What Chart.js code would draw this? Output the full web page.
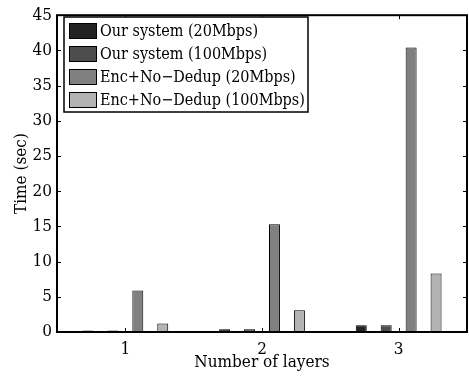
<!DOCTYPE html>
<html>
<head>
<meta charset="utf-8">
<script src="https://cdn.jsdelivr.net/npm/chart.js@4/dist/chart.umd.min.js"></script>
<style>
  html, body { margin: 0; padding: 0; background: #fff; }
  #wrap { width: 469px; height: 376px; }
</style>
</head>
<body>
<div id="wrap"><canvas id="chart" width="469" height="376"></canvas></div>
<script>
// Datos
const layers = ['1', '2', '3'];
const ours20 = [0.2, 0.4, 0.95];
const ours100 = [0.2, 0.4, 0.95];
const encNoDedup20 = [5.9, 15.3, 40.4];
const encNoDedup100 = [1.2, 3.1, 8.3];
const yTicks = [0, 5, 10, 15, 20, 25, 30, 35, 40, 45];

const seriesLabels = ['Our system (20Mbps)', 'Our system (100Mbps)', 'Enc+No\u2212Dedup (20Mbps)', 'Enc+No\u2212Dedup (100Mbps)'];
const seriesColors = ['#222222', '#4d4d4d', '#808080', '#b3b3b3'];

const FONT = '"DejaVu Serif Condensed", "DejaVu Serif", serif';

// Marco, ticks hacia dentro y leyenda estilo MATLAB
const matlabFrame = {
    id: 'matlabFrame',
    afterDraw(chart) {
        const { ctx, chartArea: a, scales } = chart;
        ctx.save();
        ctx.strokeStyle = '#000';
        ctx.lineWidth = 1;
        // ticks interiores
        ctx.beginPath();
        yTicks.forEach(v => {
            const y = Math.round(scales.y.getPixelForValue(v)) + 0.5;
            ctx.moveTo(a.left, y); ctx.lineTo(a.left + 4, y);
            ctx.moveTo(a.right, y); ctx.lineTo(a.right - 4, y);
        });
        layers.forEach((l, i) => {
            const x = Math.round(scales.x.getPixelForValue(i)) + 0.5;
            ctx.moveTo(x, a.bottom); ctx.lineTo(x, a.bottom - 4);
            ctx.moveTo(x, a.top); ctx.lineTo(x, a.top + 4);
        });
        ctx.stroke();
        // marco
        ctx.lineWidth = 2;
        ctx.strokeRect(a.left, a.top, a.right - a.left, a.bottom - a.top);

        // leyenda
        const lx = 64, ly = 17, lw = 244, lh = 95;
        ctx.fillStyle = '#fff';
        ctx.fillRect(lx, ly, lw, lh);
        ctx.lineWidth = 1.5;
        ctx.strokeRect(lx, ly, lw, lh);
        ctx.font = '16px ' + FONT;
        ctx.textBaseline = 'middle';
        chart.data.datasets.forEach((ds, i) => {
            const cy = 31 + i * 23;
            ctx.fillStyle = ds.backgroundColor;
            ctx.fillRect(69, cy - 8, 28, 16);
            ctx.lineWidth = 1;
            ctx.strokeStyle = '#000';
            ctx.strokeRect(69.5, cy - 7.5, 27, 15);
            ctx.fillStyle = '#000';
            ctx.fillText(ds.label, 100, cy + 1);
        });
        ctx.restore();
    }
};

const ctx = document.getElementById('chart').getContext('2d');

new Chart(ctx, {
    type: 'bar',
    data: {
        labels: layers,
        datasets: [ours20, ours100, encNoDedup20, encNoDedup100].map((d, i) => ({
            label: seriesLabels[i],
            data: d,
            backgroundColor: seriesColors[i],
            borderColor: '#000',
            borderWidth: 1,
            categoryPercentage: 0.73,
            barPercentage: 0.44
        }))
    },
    options: {
        responsive: false,
        animation: false,
        layout: { padding: { top: 10, right: 2, left: 0, bottom: 0 } },
        plugins: {
            legend: { display: false },
            tooltip: { enabled: false }
        },
        scales: {
            x: {
                grid: { display: false, drawTicks: false },
                border: { display: false },
                ticks: { color: '#000', font: { family: FONT, size: 17 }, padding: 7 },
                title: {
                    display: true,
                    text: 'Number of layers',
                    color: '#000',
                    font: { family: FONT, size: 17 },
                    padding: { top: 0, bottom: 3 }
                },
                afterFit: s => { s.height = 44; }
            },
            y: {
                min: 0,
                max: 45,
                grid: { display: false, drawTicks: false },
                border: { display: false },
                afterBuildTicks: s => { s.ticks = yTicks.map(v => ({ value: v })); },
                ticks: { color: '#000', font: { family: FONT, size: 17 }, padding: 5 },
                title: {
                    display: true,
                    text: 'Time (sec)',
                    color: '#000',
                    font: { family: FONT, size: 17 },
                    padding: { top: 11, bottom: 0 }
                },
                afterFit: s => { s.width = 57; }
            }
        }
    },
    plugins: [matlabFrame]
});
</script>
</body>
</html>
